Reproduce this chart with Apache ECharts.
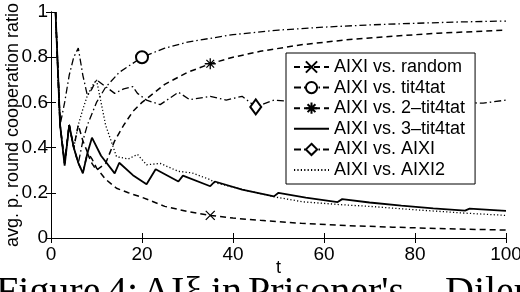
<!DOCTYPE html>
<html><head><meta charset="utf-8">
<script src="https://cdn.jsdelivr.net/npm/echarts@6/dist/echarts.min.js"></script>
<style>html,body{margin:0;padding:0;background:#fff}#c{width:520px;height:292px}</style>
</head><body><div id="c"></div>
<script>
// ---- data ----
const xTicks = [0, 20, 40, 60, 80, 100];
const yTicks = [0, 0.2, 0.4, 0.6, 0.8, 1];
const seriesNames = ['AIXI vs. random', 'AIXI vs. tit4tat', 'AIXI vs. 2–tit4tat', 'AIXI vs. 3–tit4tat', 'AIXI vs. AIXI', 'AIXI vs. AIXI2'];
const captionWords = ['Figure', '4:', 'AIξ', 'in', "Prisoner's", 'Dilemma'];

const randomT = [1, 2, 3, 4, 5, 6, 7, 8, 9, 10, 12, 14.4, 17, 20, 25, 30, 35, 40, 46, 55, 65, 75, 85, 100];
const randomV = [1, 0.5, 0.33, 0.5, 0.4, 0.5, 0.43, 0.38, 0.35, 0.31, 0.26, 0.22, 0.2, 0.18, 0.14, 0.117, 0.1, 0.088, 0.078, 0.065, 0.055, 0.048, 0.042, 0.035];

const tftT = [1, 2, 3, 4, 5, 6, 7, 8, 10, 12, 15, 20, 25, 30, 40, 50, 60, 70, 80, 90, 100];
const tftV = [1, 0.5, 0.33, 0.5, 0.4, 0.33, 0.43, 0.5, 0.6, 0.667, 0.733, 0.8, 0.84, 0.867, 0.9, 0.92, 0.933, 0.943, 0.95, 0.956, 0.96];

const tft2T = [1, 2, 3, 4, 5, 6, 7, 8, 9, 10, 12, 14, 16, 18, 20, 25, 30, 35, 40, 46, 55, 65, 75, 85, 100];
const tft2V = [1, 0.5, 0.33, 0.5, 0.4, 0.33, 0.29, 0.375, 0.33, 0.3, 0.33, 0.43, 0.5, 0.56, 0.6, 0.68, 0.733, 0.771, 0.8, 0.826, 0.855, 0.877, 0.893, 0.906, 0.92];

const tft3T = [1, 2, 3, 4, 5, 6, 7, 8, 9, 11, 14, 15, 18, 21, 23, 28, 29, 35, 36, 42, 49, 50, 56, 63, 64, 70, 77, 84, 91, 92, 100];
const tft3V = [1, 0.5, 0.32, 0.5, 0.4, 0.333, 0.286, 0.375, 0.444, 0.364, 0.286, 0.333, 0.278, 0.238, 0.304, 0.25, 0.276, 0.229, 0.25, 0.214, 0.184, 0.2, 0.179, 0.159, 0.172, 0.157, 0.143, 0.131, 0.121, 0.13, 0.12];

const aixiT = [1, 2, 3, 4, 5, 6, 7, 8, 9, 10, 12, 14, 16, 18, 19, 21, 24, 28, 30.5, 35, 38.5, 42, 45, 49, 55, 65, 75, 85, 95, 100];
const aixiV = [1, 0.5, 0.6, 0.72, 0.8, 0.84, 0.72, 0.63, 0.66, 0.7, 0.67, 0.64, 0.66, 0.67, 0.64, 0.61, 0.59, 0.645, 0.612, 0.627, 0.61, 0.627, 0.58, 0.61, 0.6, 0.6, 0.6, 0.6, 0.597, 0.61];

const aixi2T = [1, 2, 3, 4, 5, 6, 7, 8, 9, 10, 12, 14.4, 17, 19, 21, 24, 28, 31, 35, 36, 42, 49.7, 55.4, 64, 70, 80, 91, 100];
const aixi2V = [1, 0.5, 0.33, 0.5, 0.4, 0.5, 0.57, 0.63, 0.67, 0.7, 0.5, 0.36, 0.35, 0.37, 0.324, 0.33, 0.295, 0.288, 0.258, 0.245, 0.215, 0.18, 0.16, 0.147, 0.14, 0.125, 0.11, 0.1];

// t position of the single marker drawn on each curve
const markerT = [35, 20, 35, null, 45, null];

// ---- styles ----
const FONT = 'Liberation Sans';
const symX = 'path://M0,0L10,10M10,0L0,10';
const symStar = 'path://M5,0L5,10M0,5L10,5M1.5,1.5L8.5,8.5M8.5,1.5L1.5,8.5';
const symbols = [symX, 'emptyCircle', symStar, 'none', 'emptyDiamond', 'none'];
const symSizes = [9, 12, 11, 0, [11, 15], 0];
const dashes = [[6, 4], [7, 3, 1.5, 3], [6, 4], 'solid', [7, 3, 1.5, 3], [1.2, 2.2]];
const widths = [1.5, 1.3, 1.5, 1.8, 1.3, 1.3];
const tArrs = [randomT, tftT, tft2T, tft3T, aixiT, aixi2T];
const vArrs = [randomV, tftV, tft2V, tft3V, aixiV, aixi2V];
const captionLeft = [-4, 107, 142, 211, 248, 445];

const series = seriesNames.map((name, i) => {
  const data = tArrs[i].map((t, k) => {
    const item = { value: [t, vArrs[i][k]] };
    if (t !== markerT[i]) item.symbol = 'none';
    return item;
  });
  return {
    name, type: 'line', data,
    symbol: symbols[i], symbolSize: symSizes[i],
    showSymbol: symbols[i] !== 'none', showAllSymbol: true,
    animation: false, clip: false,
    lineStyle: { color: '#000', width: widths[i], type: dashes[i] },
    itemStyle: { color: '#000', borderColor: '#000', borderWidth: 1.3 },
    emphasis: { disabled: true }
  };
});

const legendData = seriesNames.map((name, i) =>
  symbols[i] === 'none' ? { name, itemStyle: { opacity: 0 } } : { name });

const axisCommon = {
  type: 'value',
  axisLine: { show: true, lineStyle: { color: '#000', width: 1 } },
  axisTick: { show: true, inside: true, length: 5, lineStyle: { color: '#000' } },
  splitLine: { show: false }
};

const chart = echarts.init(document.getElementById('c'), null, { renderer: 'canvas' });
chart.setOption({
  backgroundColor: '#fff',
  animation: false,
  grid: { left: 51, right: 14, top: 12, bottom: 54, containLabel: false, outerBoundsMode: 'none' },
  xAxis: [
    Object.assign({}, axisCommon, {
      min: xTicks[0], max: xTicks[xTicks.length - 1], interval: xTicks[1] - xTicks[0],
      name: 't', nameLocation: 'middle', nameGap: 21, nameMoveOverlap: false,
      nameTextStyle: { fontFamily: FONT, fontSize: 18, color: '#000' },
      axisLabel: { fontFamily: FONT, fontSize: 19, color: '#000', margin: 7 }
    }),
    Object.assign({}, axisCommon, {
      position: 'top', min: xTicks[0], max: xTicks[xTicks.length - 1], interval: xTicks[1] - xTicks[0],
      axisLabel: { show: false }
    })
  ],
  yAxis: [
    Object.assign({}, axisCommon, {
      min: yTicks[0], max: yTicks[yTicks.length - 1], interval: yTicks[1] - yTicks[0],
      name: 'avg. p. round cooperation ratio', nameLocation: 'middle', nameGap: 29, nameMoveOverlap: false,
      nameTextStyle: { fontFamily: FONT, fontSize: 18, color: '#000' },
      axisLabel: { fontFamily: FONT, fontSize: 19, color: '#000', margin: 3 }
    }),
    Object.assign({}, axisCommon, {
      position: 'right', min: yTicks[0], max: yTicks[yTicks.length - 1], interval: yTicks[1] - yTicks[0],
      axisLabel: { show: false }
    })
  ],
  legend: {
    orient: 'vertical', left: 286, top: 53,
    data: legendData,
    backgroundColor: '#fff', borderColor: '#000', borderWidth: 1, borderRadius: 0,
    padding: [5, 10, 5, 7],
    itemWidth: 35, itemHeight: 14, itemGap: 2.6,
    selectedMode: false,
    textStyle: { fontFamily: FONT, fontSize: 18, color: '#000' }
  },
  graphic: captionWords.map((w, i) => ({
    type: 'text', left: captionLeft[i], top: 273, silent: true,
    style: { text: w, font: '40px "Liberation Serif"', fill: '#000' }
  })),
  series
});
</script></body></html>
